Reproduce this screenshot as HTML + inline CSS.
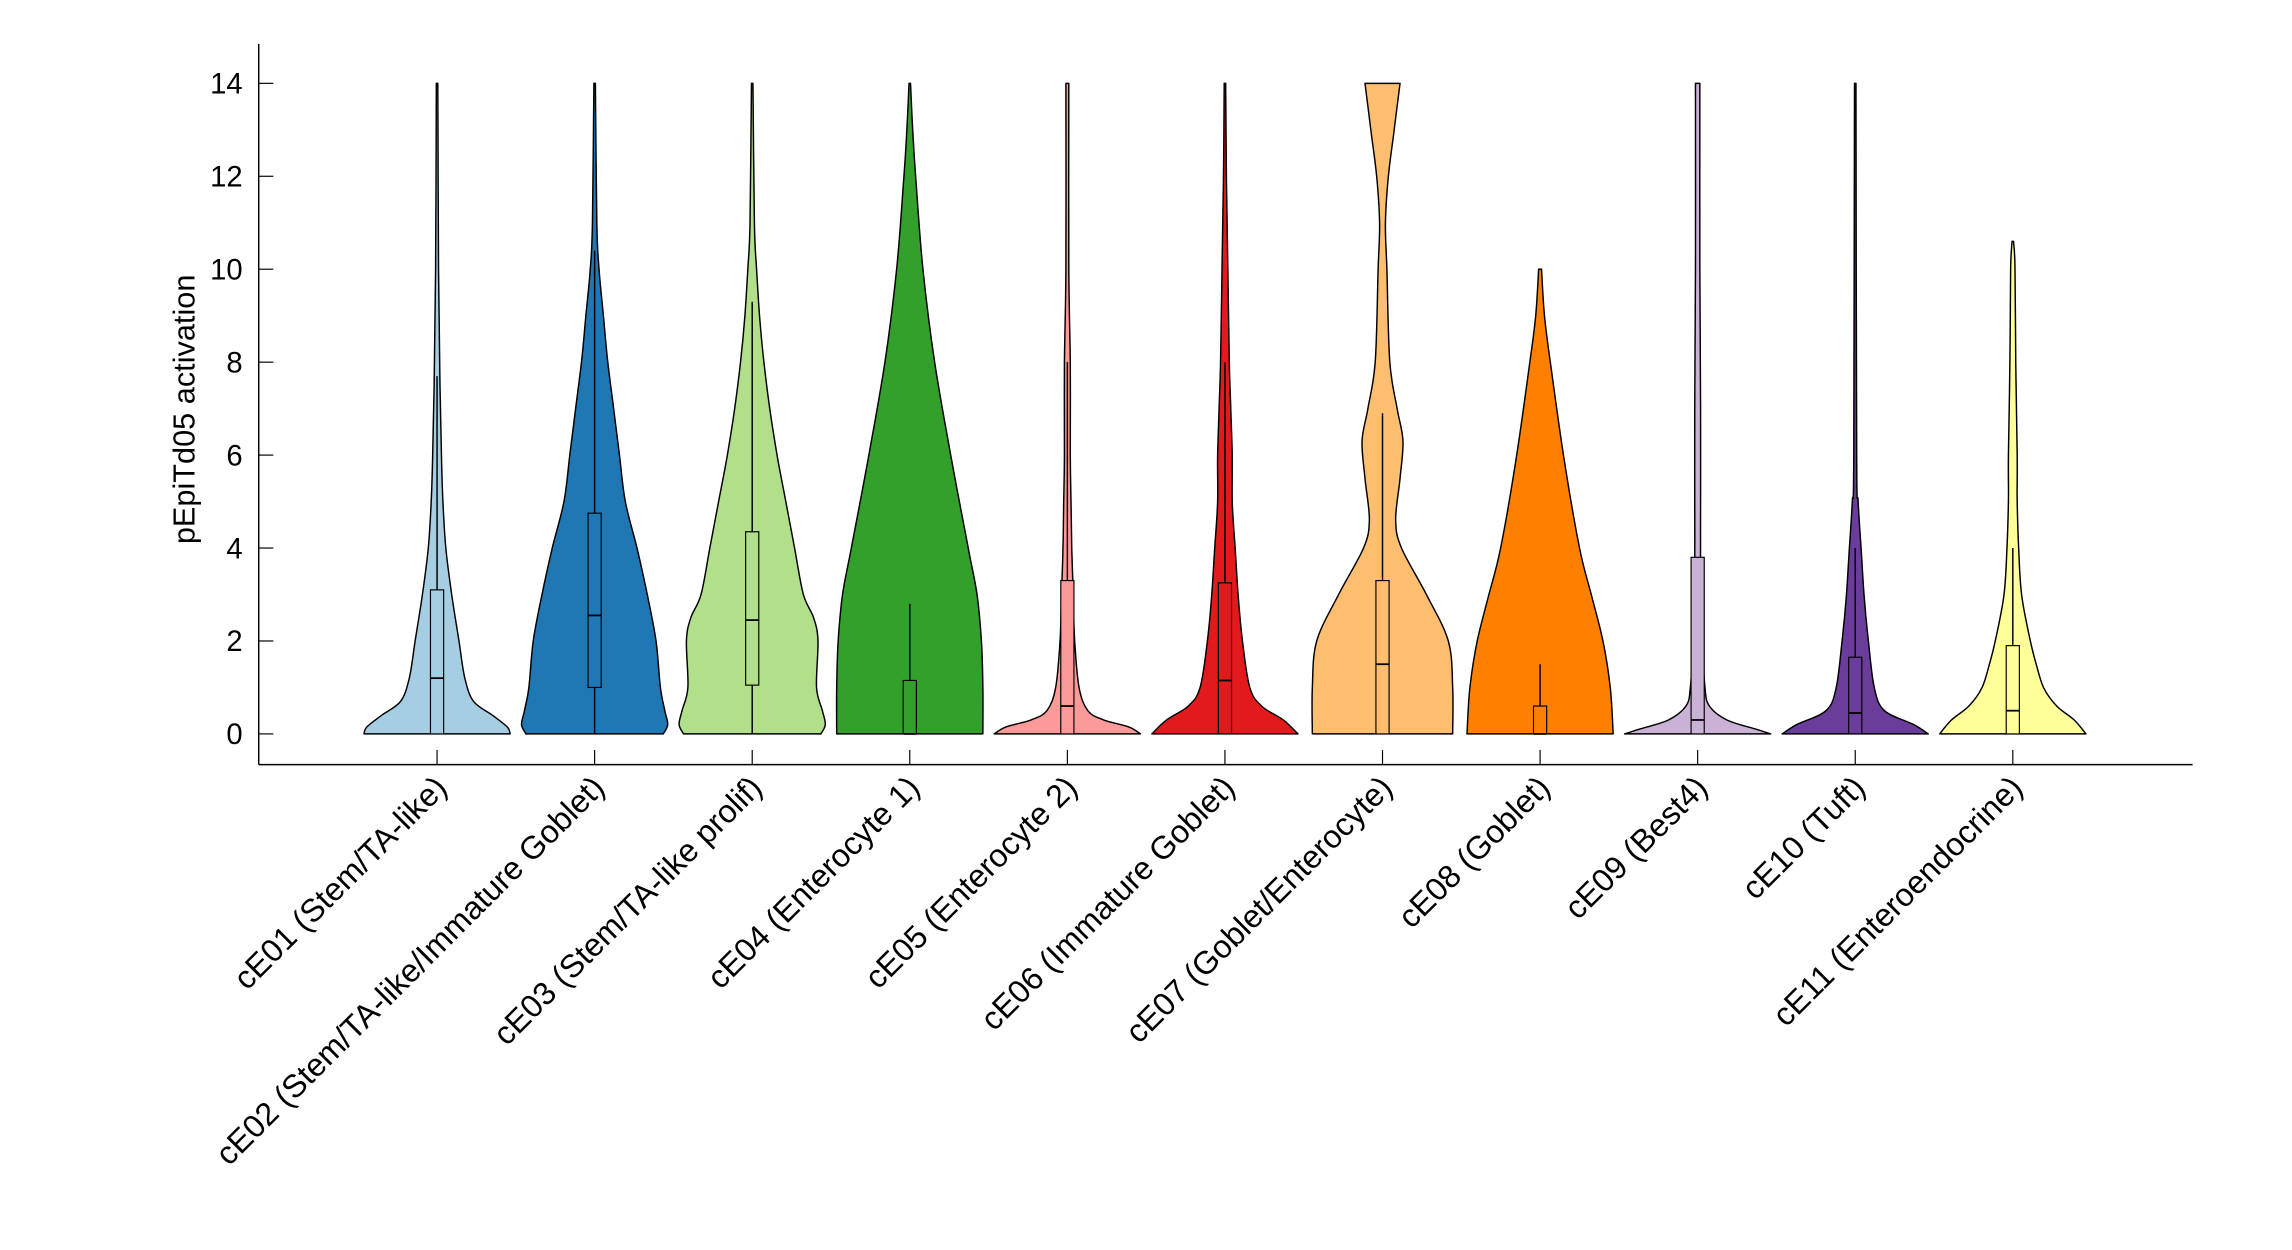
<!DOCTYPE html>
<html><head><meta charset="utf-8"><style>
html,body{margin:0;padding:0;background:#fff;}
svg{display:block;}
text{font-family:"Liberation Sans",Arial,sans-serif;fill:#000;}
</style></head><body>
<svg id="s" width="2292" height="1250" viewBox="0 0 1568 855" preserveAspectRatio="none" xmlns="http://www.w3.org/2000/svg">
<g stroke="#000" stroke-width="1" fill="none">
<line x1="177" y1="30" x2="177" y2="523"/>
<line x1="177" y1="523" x2="1500" y2="523"/>
</g>
<g id="yt"></g>
<g id="vio"></g>
<g id="lab"></g>
<text x="133" y="280" font-size="21" text-anchor="middle" transform="rotate(-90 133 280)">pEpiTd05 activation</text>
</svg>
<script>
const NS="http://www.w3.org/2000/svg";
const y0=502, k=(502-57)/14;
const Y=v=>y0-v*k;
function el(t,a,p,txt){const e=document.createElementNS(NS,t);for(const i in a)e.setAttribute(i,a[i]);if(txt!==undefined)e.textContent=txt;p.appendChild(e);return e;}
const yt=document.getElementById('yt');
for(let v=0;v<=14;v+=2){el('line',{x1:177,x2:187,y1:Y(v),y2:Y(v),stroke:'#000','stroke-width':0.8},yt);
el('text',{x:166,y:Y(v)+7,'font-size':20,'text-anchor':'end'},yt,v);}
const D=[
["cE01 (Stem/TA-like)","#a6cee3",[[0,50],[0.15,48],[0.4,38],[0.7,25],[1.2,19],[2,15],[3,10],[4,6],[5,4],[6,3],[7.5,2],[10,1],[14,0.5]],[0,1.2,3.1,7.7]],
["cE02 (Stem/TA-like/Immature Goblet)","#1f78b4",[[0,47],[0.2,50],[0.5,48],[1,45],[2,42],[3,36],[4,29],[5,21],[6,17],[7,13],[8,9],[9,6],[10,3],[11,1.5],[14,0.5]],[1,2.55,4.75,10.4]],
["cE03 (Stem/TA-like prolif)","#b2df8a",[[0,47],[0.2,50],[0.5,48],[1,44],[2,45],[2.5,42],[3,35],[4,29],[5,23],[6,17],[7,12],[8,8],[9,5],[10,3],[11,1.5],[14,0.5]],[1.05,2.45,4.35,9.3]],
["cE04 (Enterocyte 1)","#33a02c",[[0,50],[1,50],[2,49],[3,46],[4,40],[6,28],[8,17],[10,9],[12,4],[13,2],[14,0.5]],[0,0,1.15,2.8]],
["cE05 (Enterocyte 2)","#fb9a99",[[0,50],[0.15,42],[0.3,25],[0.5,14],[1,8],[2,5],[3,4],[4,3],[5,2.5],[6,2],[8,2],[10,1],[14,1]],[0,0.6,3.3,8]],
["cE06 (Immature Goblet)","#e31a1c",[[0,50],[0.3,40],[0.6,25],[1,17],[2,12],[3,9],[4,7],[5,5],[6,5],[7,4],[8,3],[10,2],[12,1],[14,0.5]],[0,1.15,3.25,8]],
["cE07 (Goblet/Enterocyte)","#fdbf6f",[[0,48],[1,48],[2,45],[3,30],[4,13],[4.6,9],[5.5,12],[6.3,14],[7,10],[8,5],[10,3],[11,2],[12,4],[13,8],[14,12]],[0,1.5,3.3,6.9]],
["cE08 (Goblet)","#ff7f00",[[0,50],[1,48],[2,43],[3,35],[4,27],[6,16],[8,7],[9,3],[10,1]],[0,0,0.6,1.5]],
["cE09 (Best4)","#cab2d6",[[0,50],[0.1,40],[0.3,20],[0.6,8],[1,5],[2,3],[3,2],[5,2],[7,2],[10,1.5],[14,1.5]],[0,0.3,3.8,3.8]],
["cE10 (Tuft)","#6a3d9a",[[0,50],[0.2,40],[0.5,20],[1,13],[2,9],[3,6],[4,4],[5,2],[6,1],[14,0.5]],[0,0.45,1.65,4]],
["cE11 (Enteroendocrine)","#ffff99",[[0,50],[0.3,42],[0.6,30],[1,21],[1.5,16],[2,12],[3,6],[4,4],[5,3],[6,3],[8,2],[10,1.5],[10.6,0.5]],[0,0.5,1.9,4]]
];
function cr(P){let s='';for(let i=0;i<P.length-1;i++){const p0=P[Math.max(i-1,0)],p1=P[i],p2=P[i+1],p3=P[Math.min(i+2,P.length-1)];
const c1=[p1[0]+(p2[0]-p0[0])/6,p1[1]+(p2[1]-p0[1])/6],c2=[p2[0]-(p3[0]-p1[0])/6,p2[1]-(p3[1]-p1[1])/6];
s+=` C${c1[0].toFixed(1)},${c1[1].toFixed(1)} ${c2[0].toFixed(1)},${c2[1].toFixed(1)} ${p2[0].toFixed(1)},${p2[1].toFixed(1)}`;}return s;}
const vg=document.getElementById('vio'),lg=document.getElementById('lab');
D.forEach((d,i)=>{
 const cx=299+i*107.8;const pts=d[2];
 const R=pts.map(q=>[cx+q[1],Y(q[0])]);
 const L=pts.slice().reverse().map(q=>[cx-q[1],Y(q[0])]);
 const path=`M${R[0][0]},${R[0][1]}`+cr(R)+` L${L[0][0]},${L[0][1]}`+cr(L)+'Z';
 el('path',{d:path,fill:d[1],stroke:'#000','stroke-width':1,'stroke-linejoin':'round'},vg);
 const [q1,m,q3,w]=d[3];
 el('line',{x1:cx,x2:cx,y1:Y(0),y2:Y(w),stroke:'#000','stroke-width':1},vg);
 el('rect',{x:cx-4.5,y:Y(q3),width:9,height:Math.max(Y(q1)-Y(q3),0.5),fill:d[1],stroke:'#000','stroke-width':0.8},vg);
 el('line',{x1:cx-4.5,x2:cx+4.5,y1:Y(m),y2:Y(m),stroke:'#000','stroke-width':1.2},vg);
 el('line',{x1:cx,x2:cx,y1:513,y2:523,stroke:'#000','stroke-width':0.8},lg);
 el('text',{x:cx+8,y:540,'font-size':22,'text-anchor':'end',transform:`rotate(-45 ${cx+8} 540)`},lg,d[0]);
});
</script>
</body></html>
